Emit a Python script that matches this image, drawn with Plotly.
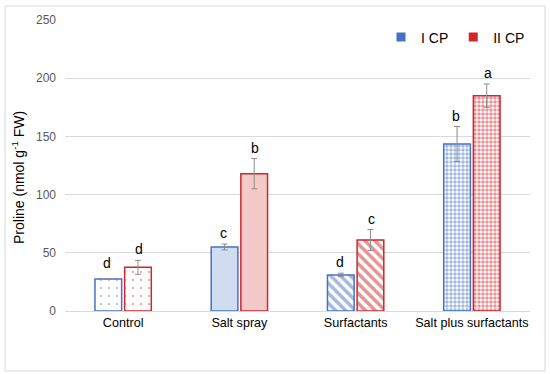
import plotly.graph_objects as go

categories = ["Control", "Salt spray", "Surfactants", "Salt plus surfactants"]
series_names = ["I CP", "II CP"]
values_I = [27.5, 55, 31, 143.5]
errors_I = [0, 2.5, 1.5, 15]
letters_I = ["d", "c", "d", "b"]
values_II = [37.5, 118, 61, 185]
errors_II = [6, 13, 9, 10]
letters_II = ["d", "b", "c", "a"]
y_ticks = [0, 50, 100, 150, 200, 250]

BLUE = "#4472C4"
RED = "#D0262C"
FONT = "Liberation Sans, Arial, sans-serif"

shapes_pat = [".", "|", "\\", "."]
sizes_pat = [8, 2, 7, 4]
solid_pat = [0.06, 0.5, 0.5, 0.6]

fig = go.Figure()
for vals, errs, color, name in [(values_I, errors_I, BLUE, series_names[0]),
                                (values_II, errors_II, RED, series_names[1])]:
    fig.add_trace(go.Bar(
        x=categories, y=vals, name=name, showlegend=False,
        marker=dict(color="white", line=dict(color=color, width=1.5),
                    pattern=dict(shape=shapes_pat, size=sizes_pat, solidity=solid_pat,
                                 fgcolor=color, bgcolor="white", fillmode="overlay")),
        error_y=dict(type="data", array=errs, visible=True, color="#8c8c8c",
                     thickness=1, width=3),
    ))
    fig.add_trace(go.Scatter(
        x=[None], y=[None], mode="markers", name=name,
        marker=dict(symbol="square", size=9, color=color),
    ))

annotations = []
for vals, errs, letters, shift in [(values_I, errors_I, letters_I, -16),
                                   (values_II, errors_II, letters_II, 16)]:
    for c, v, e, t in zip(categories, vals, errs, letters):
        annotations.append(dict(x=c, y=v + e, xref="x", yref="y", text=t,
                                showarrow=False, xshift=shift,
                                yshift=6 if e == 0 else 1,
                                yanchor="bottom",
                                font=dict(family=FONT, size=14, color="#000000")))
annotations.append(dict(x=(18 - 65) / 465, y=(311 - 178) / 291, xref="paper", yref="paper",
                        text="Proline (nmol g<sup>-1</sup> FW)", textangle=-90,
                        showarrow=False, xanchor="center", yanchor="middle",
                        font=dict(family=FONT, size=14, color="#000000")))

fig.update_layout(
    width=550, height=374,
    margin=dict(l=65, r=20, t=20, b=63, autoexpand=False),
    paper_bgcolor="white", plot_bgcolor="white",
    barmode="group", bargap=0.49, bargroupgap=0.1,
    font=dict(family=FONT, size=12, color="#000000"),
    legend=dict(orientation="h", x=1.0, xanchor="right", y=0.94, yanchor="middle",
                font=dict(family=FONT, size=14, color="#000000"),
                itemwidth=30, tracegroupgap=0, bgcolor="rgba(0,0,0,0)"),
    annotations=annotations,
    shapes=[dict(type="rect", xref="paper", yref="paper",
                 x0=(5 - 65) / 465, x1=(545 - 65) / 465,
                 y0=(311 - 371) / 291, y1=(311 - 6) / 291,
                 line=dict(color="#d9d9d9", width=1), fillcolor="rgba(0,0,0,0)", layer="below")],
)
fig.update_yaxes(range=[0, 250], tickvals=y_ticks, showgrid=True, gridcolor="#d9d9d9",
                 gridwidth=1, zeroline=False, showline=False, ticks="",
                 ticklabelstandoff=8, automargin=False,
                 tickfont=dict(family=FONT, size=12, color="#595959"))
fig.update_xaxes(showline=True, linecolor="#d9d9d9", linewidth=1, ticks="", automargin=False,
                 tickfont=dict(family=FONT, size=12.6, color="#000000"))

fig.write_html("out.html", config={"displayModeBar": False},
               post_script="document.body.style.margin='0px';")
